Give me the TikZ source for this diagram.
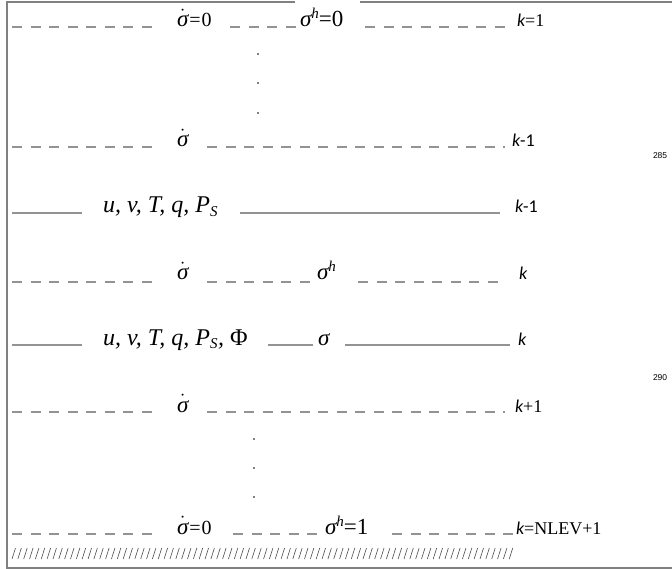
\documentclass[tikz,border=0pt]{standalone}
\usepackage{fontspec}
\setmainfont{Liberation Serif}
\newfontfamily\kfont{Carlito}
\newfontfamily\pgfont{Liberation Sans}
\newcommand{\sgm}{{\itshape σ}}
\newcommand{\sgmdot}{$\dot{\mbox{\itshape σ}}$}
\newcommand{\suph}{\raisebox{8pt}{\fontsize{15}{17}\selectfont\itshape h}}
\begin{document}
\begin{tikzpicture}[x=1pt,y=-1pt,
  dashln/.style={draw=gray!85, line width=1.2pt, dash pattern=on 10pt off 8.5pt},
  solidln/.style={draw=gray!85, line width=1.1pt},
  frameln/.style={draw=gray, line width=1.6pt},
  lbl/.style={anchor=base west, inner sep=0pt, outer sep=0pt},
  big/.style={lbl, font=\fontsize{23}{27}\selectfont},
  vars/.style={lbl, font=\fontsize{24}{28}\selectfont\itshape},
  klab/.style={lbl, font=\fontsize{18}{22}\selectfont},
  pnum/.style={lbl, font=\pgfont\fontsize{8.5}{10}\selectfont},
  dotn/.style={circle, fill=black, inner sep=0pt, minimum size=1.8pt}]
\useasboundingbox (0,0) rectangle (672,569);
% frame
\draw[frameln] (295,2) -- (7,2) -- (7,568) -- (672,568);
\draw[frameln] (360,2) -- (672,2);
% row 1
\draw[dashln] (12,27) -- (155,27);
\node[big] (r1s) at (177,27) {\sgmdot{\fontsize{20}{24}\selectfont\kern1pt=\kern1pt0}};
\draw[dashln] (230,27) -- (298,27);
\node[big] (r1h) at (300,27) {\sgm\suph=0};
\draw[dashln] (365,27) -- (510,27);
\node[klab] (r1k) at (517,27) {{\kfont\itshape k}=1};
% dots
\node[dotn] (d1) at (258,54) {};
\node[dotn] (d2) at (258,83) {};
\node[dotn] (d3) at (258,113) {};
% row 2
\draw[dashln] (12,147) -- (155,147);
\node[big] (r2s) at (177,147) {\sgmdot};
\draw[dashln] (207,147) -- (505,147);
\node[klab] (r2k) at (512,147) {\kfont{\itshape k}-1};
% page number
\node[pnum] (p285) at (653,159) {285};
% row 3
\draw[solidln] (12,213) -- (82,213);
\node[vars] (r3v) at (103,213) {u, v, T, q, P\textsubscript{\fontsize{15}{17}\selectfont S}};
\draw[solidln] (240,213) -- (500,213);
\node[klab] (r3k) at (515,213) {\kfont{\itshape k}-1};
% row 4
\draw[dashln] (12,282) -- (155,282);
\node[big] (r4s) at (177,280) {\sgmdot};
\draw[dashln] (207,282) -- (313,282);
\node[big] (r4h) at (317,280) {\sgm\suph};
\draw[dashln] (358,282) -- (505,282);
\node[klab] (r4k) at (519,280) {\kfont\itshape k};
% row 5
\draw[solidln] (12,345) -- (82,345);
\node[vars] (r5v) at (103,345) {u, v, T, q, P\textsubscript{\fontsize{15}{17}\selectfont S}, {\upshape Φ}};
\draw[solidln] (268,345) -- (313,345);
\node[big] (r5s) at (318,345) {\sgm};
\draw[solidln] (345,345) -- (510,345);
\node[klab] (r5k) at (518,345) {\kfont\itshape k};
% page number
\node[pnum] (p290) at (653,380) {290};
% row 6
\draw[dashln] (12,412) -- (155,412);
\node[big] (r6s) at (177,412) {\sgmdot};
\draw[dashln] (207,412) -- (505,412);
\node[klab] (r6k) at (515,412) {{\kfont\itshape k}+1};
% dots
\node[dotn] (d4) at (254,439) {};
\node[dotn] (d5) at (254,468) {};
\node[dotn] (d6) at (254,497) {};
% row 7
\draw[dashln] (12,534) -- (155,534);
\node[big] (r7s) at (177,534) {\sgmdot{\fontsize{20}{24}\selectfont\kern1pt=\kern1pt0}};
\draw[dashln] (233,534) -- (322,534);
\node[big] (r7h) at (325,534) {\sgm\suph=1};
\draw[dashln] (392,534) -- (516,534);
\node[klab] (r7k) at (516,534) {{\kfont\itshape k}=NLEV+1};
% hatching
\foreach \i in {0,...,85}
  \draw[black!70, line width=0.6pt] ({12+5.85*\i},559) -- ({15.5+5.85*\i},548);
\end{tikzpicture}
\end{document}
